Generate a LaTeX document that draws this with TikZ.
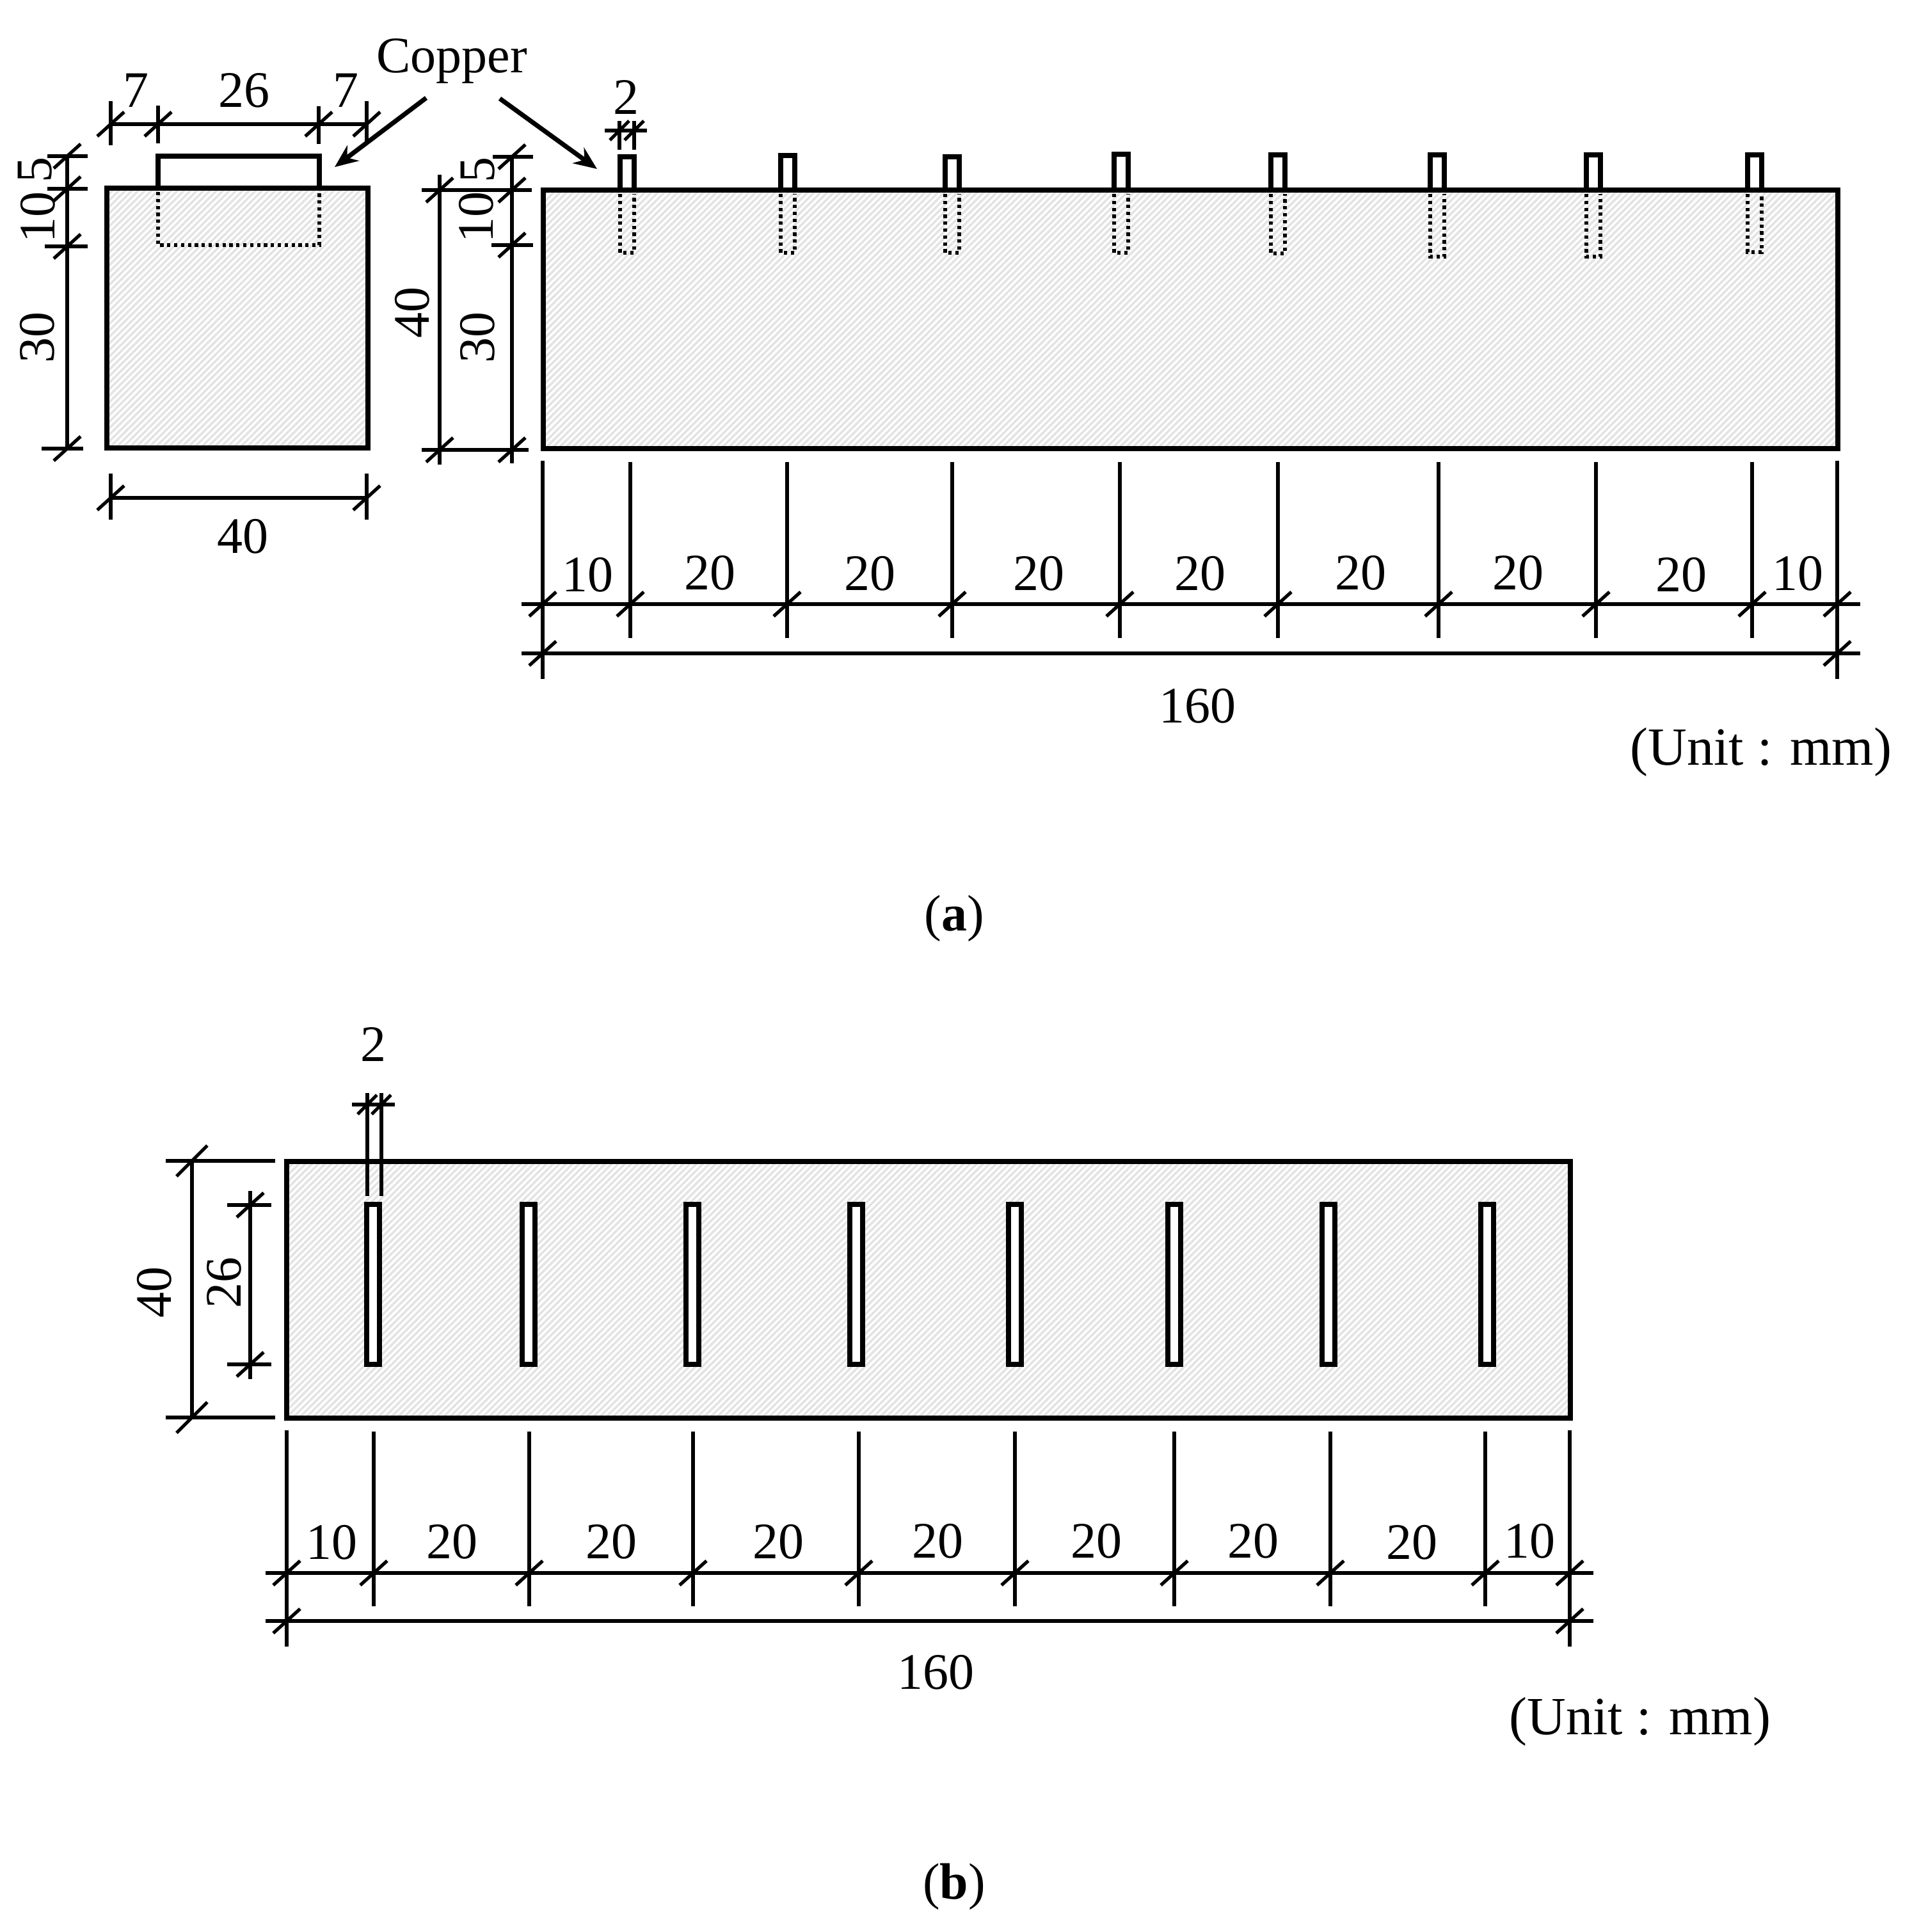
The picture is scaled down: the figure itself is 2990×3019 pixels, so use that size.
\documentclass[tikz,border=0pt]{standalone}
\usepackage{fontspec}
\setmainfont{Liberation Serif}
\usetikzlibrary{arrows.meta,patterns.meta}
\tikzstyle{dimtext} = [inner sep=0pt, font=\fontsize{20}{24}\selectfont]
\tikzstyle{unittext} = [inner sep=0pt, font=\fontsize{21}{25}\selectfont]
\tikzstyle{dimline} = [line width=1.3pt]
\tikzstyle{outline} = [line width=2.1pt]
\tikzstyle{hidden} = [line width=1.4pt, dash pattern=on 1.3pt off 1.4pt]
\tikzstyle{concrete} = [outline, pattern={Lines[angle=45,distance=1.8pt,line width=0.9pt]}, pattern color=black!11]
\tikzstyle{leader} = [line width=1.8pt, -{Stealth[length=9pt,width=7.5pt]}]
% slash through a dimension line
\newcommand{\dimtick}[2]{\draw[dimline] (#1-21,#2+19) -- (#1+21,#2-19);}
\newcommand{\smalltick}[2]{\draw[dimline] (#1-15,#2+15) -- (#1+15,#2-15);}
\begin{document}
\begin{tikzpicture}[x=0.25pt,y=-0.25pt]
\useasboundingbox (0,0) rectangle (2990,3019);

% (a) end view
\draw[concrete] (167,294) rectangle (575,700);
\draw[outline] (247,294) -- (247,244) -- (499,244) -- (499,294);
\draw[hidden] (247,300) -- (247,383) -- (499,383) -- (499,300);
\draw[dimline] (173,194) -- (573,194);
\foreach \x/\a/\b in {173/158/227, 247/165/224, 498/166/225, 573/158/225} {
    \draw[dimline] (\x,\a) -- (\x,\b);
    \dimtick{\x}{194}
}
\node[dimtext] (topa) at (212,141) {7};
\node[dimtext] (topb) at (381,141) {26};
\node[dimtext] (topc) at (540,141) {7};
\draw[dimline] (105,244) -- (105,701);
\foreach \y/\a/\b in {244/74/137, 295/74/137, 385/70/137, 701/65/130} {
    \draw[dimline] (\a,\y) -- (\b,\y);
    \dimtick{105}{\y}
}
\node[dimtext, rotate=90] (lefta) at (55,265) {5};
\node[dimtext, rotate=90] (leftb) at (59,339) {10};
\node[dimtext, rotate=90] (leftc) at (58,527) {30};
\draw[dimline] (173,778) -- (573,778);
\foreach \x in {173,573} {
    \draw[dimline] (\x,740) -- (\x,812);
    \dimtick{\x}{778}
}
\node[dimtext] (widtha) at (379,838) {40};

% (a) copper label
\node[dimtext] (copper) at (706,96) {Copper};
\coordinate (copperl) at (523,261);
\coordinate (copperr) at (933,264);
\draw[leader] (666,153) -- (copperl);
\draw[leader] (781,154) -- (copperr);

% (a) side view
\draw[concrete] (849,297) rectangle (2872,701);
\foreach \x/\t/\b in {980/245/395, 1231/243/395, 1488/245/395, 1752/241/395, 1997/242/396, 2246/242/401, 2490/242/401, 2742/242/394} {
    \draw[outline] (\x-11,297) -- (\x-11,\t) -- (\x+11,\t) -- (\x+11,297);
    \draw[hidden] (\x-11,303) -- (\x-11,\b) -- (\x+11,\b) -- (\x+11,303);
}
\draw[dimline] (687,273) -- (687,726);
\draw[dimline] (800,245) -- (800,724);
\foreach \y/\a/\b in {245/770/833, 297/659/831, 383/768/833, 703/659/826} {
    \draw[dimline] (\a,\y) -- (\b,\y);
    \dimtick{800}{\y}
}
\dimtick{687}{297}
\dimtick{687}{703}
\node[dimtext, rotate=90] (sidea) at (644,488) {40};
\node[dimtext, rotate=90] (sideb) at (747,265) {5};
\node[dimtext, rotate=90] (sidec) at (744,339) {10};
\node[dimtext, rotate=90] (sided) at (746,527) {30};
\draw[dimline] (945,204) -- (1011,204);
\foreach \x in {968,991} {
    \draw[dimline] (\x,189) -- (\x,234);
    \smalltick{\x}{204}
}
\node[dimtext] (slota) at (978,152) {2};

% (a) spacing
\draw[dimline] (815,944) -- (2907,944);
\draw[dimline] (815,1021) -- (2907,1021);
\foreach \x in {985,1230,1488,1750,1997,2248,2494,2738} {
    \draw[dimline] (\x,722) -- (\x,997);
    \dimtick{\x}{944}
}
\foreach \x in {848,2871} {
    \draw[dimline] (\x,720) -- (\x,1061);
    \dimtick{\x}{944}
    \dimtick{\x}{1021}
}
\foreach \x/\y/\t in {918/898/10, 1109/895/20, 1359/896/20, 1623/896/20, 1875/896/20, 2126/895/20, 2372/895/20, 2627/898/20, 2809/896/10} {
    \node[dimtext] (a\x) at (\x,\y) {\t};
}
\node[dimtext] (alen) at (1871,1103) {160};
\node[unittext] (aunit) at (2752,1175) {(Unit : mm)};
\node[dimtext] (cap a) at (1491,1435) {(\textbf{a})};

% (b) plan
\draw[concrete] (448,1815) rectangle (2454,2216);
\foreach \x in {583,826,1082,1338,1586,1835,2076,2324} {
    \draw[outline, fill=white] (\x-10,1882) rectangle (\x+10,2132);
}
\draw[dimline] (300,1814) -- (300,2215);
\foreach \y in {1814,2215} {
    \draw[dimline] (259,\y) -- (430,\y);
    \draw[dimline] (276,\y+24) -- (324,\y-24);
}
\node[dimtext, rotate=90] (plana) at (241,2019) {40};
\draw[dimline] (391,1861) -- (391,2155);
\foreach \y in {1883,2132} {
    \draw[dimline] (355,\y) -- (424,\y);
    \dimtick{391}{\y}
}
\node[dimtext, rotate=90] (planb) at (350,2004) {26};
\draw[dimline] (550,1726) -- (617,1726);
\foreach \x in {574,596} {
    \draw[dimline] (\x,1708) -- (\x,1869);
    \smalltick{\x}{1726}
}
\node[dimtext] (planc) at (583,1632) {2};

% (b) spacing
\draw[dimline] (415,2458) -- (2490,2458);
\draw[dimline] (415,2533) -- (2490,2533);
\foreach \x in {584,827,1083,1342,1586,1835,2079,2321} {
    \draw[dimline] (\x,2237) -- (\x,2510);
    \dimtick{\x}{2458}
}
\foreach \x in {448,2453} {
    \draw[dimline] (\x,2235) -- (\x,2573);
    \dimtick{\x}{2458}
    \dimtick{\x}{2533}
}
\foreach \x/\y/\t in {518/2410/10, 706/2409/20, 955/2409/20, 1216/2409/20, 1465/2408/20, 1713/2408/20, 1958/2408/20, 2206/2410/20, 2390/2408/10} {
    \node[dimtext] (b\x) at (\x,\y) {\t};
}
\node[dimtext] (blen) at (1462,2613) {160};
\node[unittext] (bunit) at (2563,2690) {(Unit : mm)};
\node[dimtext] (cap b) at (1491,2948) {(\textbf{b})};
\end{tikzpicture}
\end{document}
